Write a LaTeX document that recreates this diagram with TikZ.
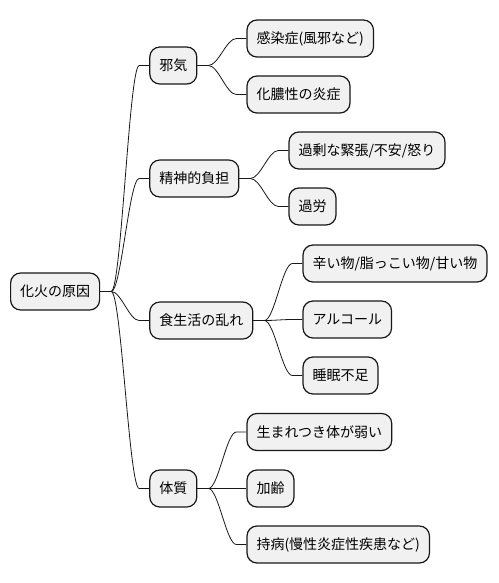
\documentclass[tikz,border=0pt]{standalone}
\usepackage{fontspec}
\setmainfont{Noto Sans CJK JP}
\usetikzlibrary{calc}
\definecolor{boxfill}{HTML}{F1F1F1}
\definecolor{boxline}{HTML}{181818}
\tikzset{
  mm/.style={draw=boxline, fill=boxfill, line width=1.2pt, rounded corners=10pt,
    anchor=west, minimum height=37pt, inner xsep=9.5pt, inner ysep=0pt,
    font=\fontsize{14pt}{16pt}\selectfont, text=black},
  edge/.style={draw=boxline, line width=0.8pt},
}
\newcommand{\mmlink}[2]{%
  \draw[edge] (#1.east) -- ++(11,0) coordinate (#1-#2-a)
    .. controls ($(#1-#2-a)+(10,0)$) and ($(#2.west)+(-20,0)$) .. ($(#2.west)+(-10,0)$) -- (#2.west);}
\begin{document}
\begin{tikzpicture}[x=1pt,y=-1pt]
\useasboundingbox (0,0) rectangle (498,583);
% root
\node[mm] (r) at (10,291.5) {化火の原因};
% level 1
\coordinate (rx) at ($(r.east)+(49,0)$);
\node[mm] (a) at (rx |- 0,65.5) {邪気};
\node[mm] (b) at (rx |- 0,178.5) {精神的負担};
\node[mm] (c) at (rx |- 0,320.5) {食生活の乱れ};
\node[mm] (d) at (rx |- 0,488.5) {体質};
% level 2
\coordinate (ax) at ($(a.east)+(49,0)$);
\node[mm] (a1) at (ax |- 0,38.5) {感染症(風邪など)};
\node[mm] (a2) at (ax |- 0,94.5) {化膿性の炎症};
\coordinate (bx) at ($(b.east)+(49,0)$);
\node[mm] (b1) at (bx |- 0,150.5) {過剰な緊張/不安/怒り};
\node[mm] (b2) at (bx |- 0,206.5) {過労};
\coordinate (cx) at ($(c.east)+(49,0)$);
\node[mm] (c1) at (cx |- 0,263.5) {辛い物/脂っこい物/甘い物};
\node[mm] (c2) at (cx |- 0,319.5) {アルコール};
\node[mm] (c3) at (cx |- 0,375.5) {睡眠不足};
\coordinate (dx) at ($(d.east)+(49,0)$);
\node[mm] (d1) at (dx |- 0,432) {生まれつき体が弱い};
\node[mm] (d2) at (dx |- 0,488.5) {加齢};
\node[mm] (d3) at (dx |- 0,544.5) {持病(慢性炎症性疾患など)};
% links
\mmlink{r}{a}\mmlink{r}{b}\mmlink{r}{c}\mmlink{r}{d}
\mmlink{a}{a1}\mmlink{a}{a2}
\mmlink{b}{b1}\mmlink{b}{b2}
\mmlink{c}{c1}\mmlink{c}{c2}\mmlink{c}{c3}
\mmlink{d}{d1}\mmlink{d}{d2}\mmlink{d}{d3}
\end{tikzpicture}
\end{document}
